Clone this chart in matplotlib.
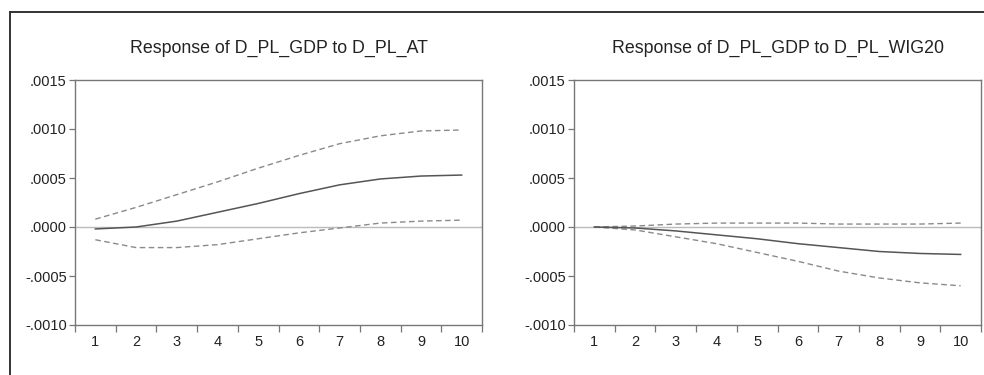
import matplotlib
matplotlib.use("Agg")
import matplotlib.pyplot as plt
from matplotlib.lines import Line2D

plt.rcParams['font.family'] = ['Liberation Sans', 'DejaVu Sans']

periods = [1, 2, 3, 4, 5, 6, 7, 8, 9, 10]
period_labels = ["1", "2", "3", "4", "5", "6", "7", "8", "9", "10"]
ytick_vals = [-0.0010, -0.0005, 0.0000, 0.0005, 0.0010, 0.0015]
ytick_labels = ["-.0010", "-.0005", ".0000", ".0005", ".0010", ".0015"]

title_at = "Response of D_PL_GDP to D_PL_AT"
at_resp = [-0.00002, 0.00000, 0.00006, 0.00015, 0.00024, 0.00034, 0.00043, 0.00049, 0.00052, 0.00053]
at_upper = [0.00008, 0.00020, 0.00033, 0.00046, 0.00060, 0.00073, 0.00085, 0.00093, 0.00098, 0.00099]
at_lower = [-0.00013, -0.00021, -0.00021, -0.00018, -0.00012, -0.00006, -0.00001, 0.00004, 0.00006, 0.00007]

title_wig = "Response of D_PL_GDP to D_PL_WIG20"
wig_resp = [0.00000, -0.00001, -0.00004, -0.00008, -0.00012, -0.00017, -0.00021, -0.00025, -0.00027, -0.00028]
wig_upper = [0.00000, 0.00001, 0.00003, 0.00004, 0.00004, 0.00004, 0.00003, 0.00003, 0.00003, 0.00004]
wig_lower = [0.00000, -0.00003, -0.00010, -0.00017, -0.00026, -0.00035, -0.00045, -0.00052, -0.00057, -0.00060]

fig = plt.figure(figsize=(9.84, 3.75), dpi=100)

# outer frame (cropped: only left and top edges visible)
fig.add_artist(Line2D([10/984, 10/984], [0, 1 - 12/375], transform=fig.transFigure,
                      color="#333333", lw=1.4))
fig.add_artist(Line2D([10/984, 1], [1 - 12/375, 1 - 12/375], transform=fig.transFigure,
                      color="#333333", lw=1.4))

panels = [
    (75/984, title_at, at_resp, at_upper, at_lower),
    (574/984, title_wig, wig_resp, wig_upper, wig_lower),
]

for left, title, resp, up, lo in panels:
    ax = fig.add_axes([left, 1 - 325/375, 407/984, 245/375])
    ax.axhline(0, color="#bbbbbb", lw=1.0, zorder=1)
    ax.plot(periods, up, color="#8a8a8a", lw=1.0, ls=(0, (4, 2.5)), zorder=2)
    ax.plot(periods, lo, color="#8a8a8a", lw=1.0, ls=(0, (4, 2.5)), zorder=2)
    ax.plot(periods, resp, color="#555555", lw=1.1, zorder=3)
    ax.set_xlim(0.5, 10.5)
    ax.set_ylim(-0.0010, 0.0015)
    ax.set_yticks(ytick_vals)
    ax.set_yticklabels(ytick_labels)
    # x: ticks at category boundaries, labels centered
    ax.set_xticks([p - 0.5 for p in periods] + [10.5])
    ax.set_xticklabels([])
    ax.set_xticks(periods, minor=True)
    ax.set_xticklabels(period_labels, minor=True)
    ax.tick_params(axis="x", which="minor", length=0, pad=7, labelsize=10.5, labelcolor="#222222")
    ax.tick_params(axis="x", which="major", length=5, width=0.9, color="#777777", direction="out")
    ax.tick_params(axis="y", length=4, width=0.9, color="#777777", direction="out",
                   labelsize=10.5, labelcolor="#222222", pad=2)
    for s in ax.spines.values():
        s.set_color("#777777")
        s.set_linewidth(1.0)
    ax.set_title(title, fontsize=12.8, color="#222222", pad=19.5)

fig.savefig("out.png", dpi=100)
